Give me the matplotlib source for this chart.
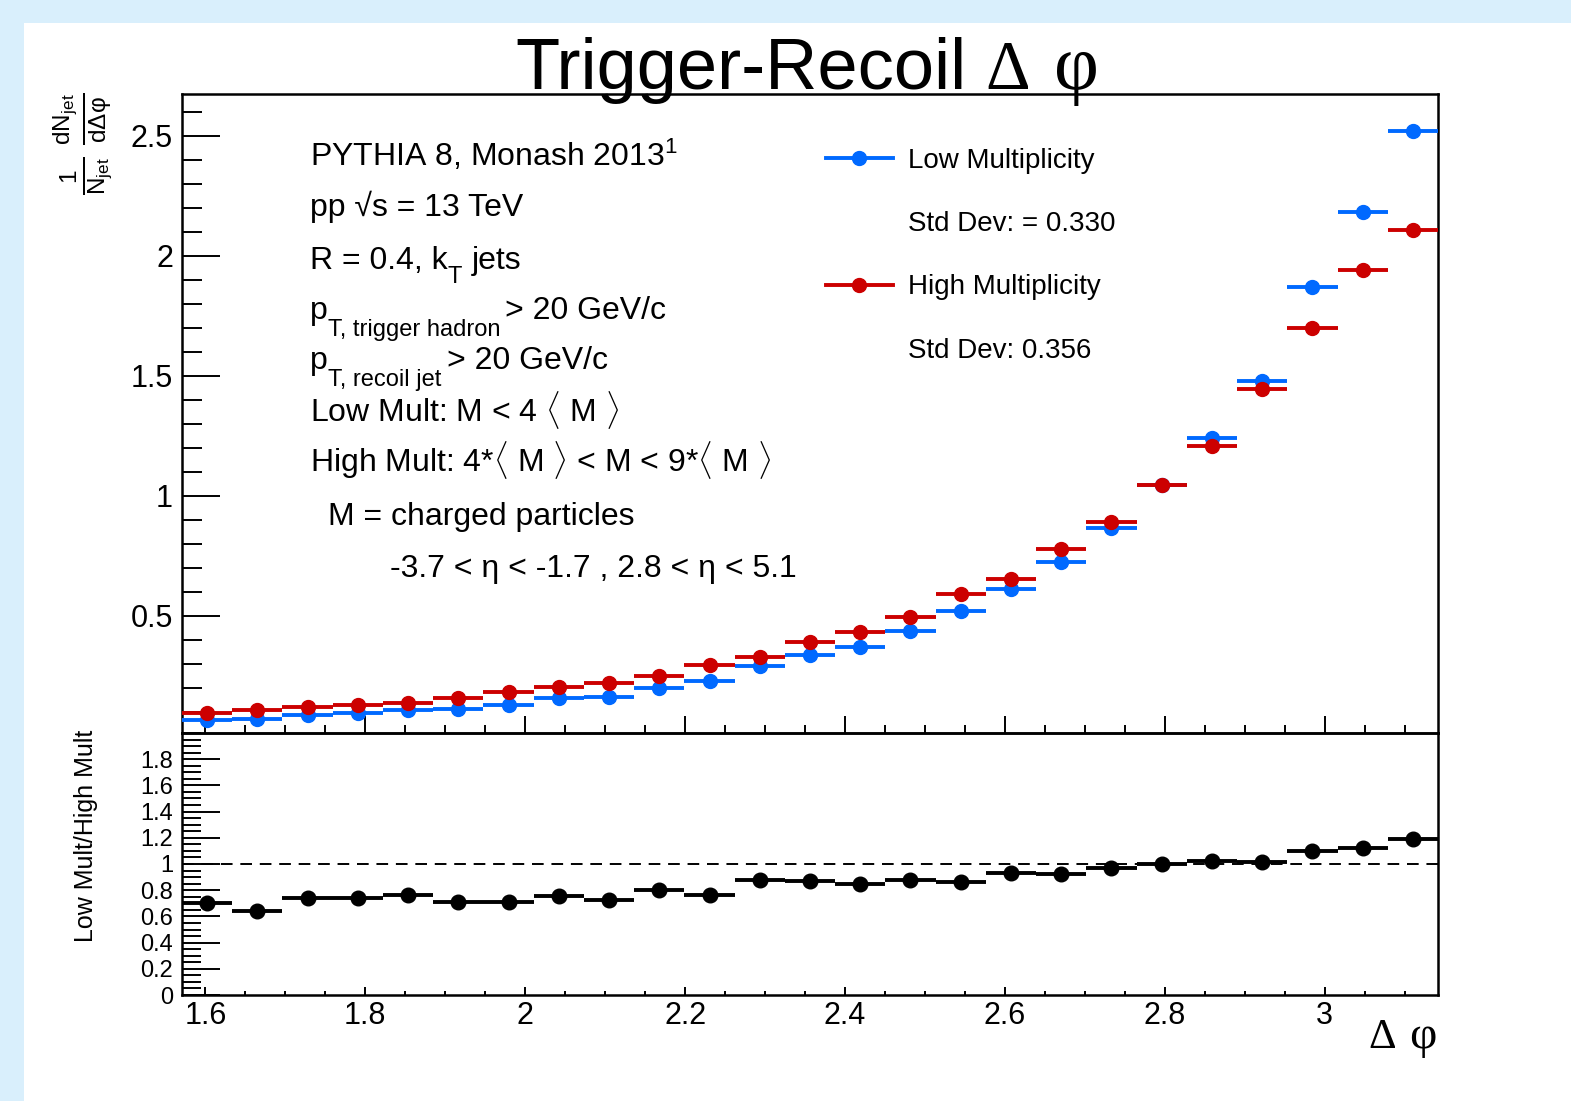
import numpy as np
import matplotlib
matplotlib.use('Agg')
import matplotlib.pyplot as plt
from matplotlib.lines import Line2D
from matplotlib.patches import Rectangle
from matplotlib.ticker import MultipleLocator, FixedLocator, FixedFormatter

# ---------------- data ----------------
n_bins = 25
phi_lo, phi_hi = np.pi / 2, np.pi
low_mult = [0.067, 0.071, 0.088, 0.095, 0.105, 0.111, 0.129, 0.155, 0.160, 0.199,
            0.226, 0.289, 0.338, 0.370, 0.435, 0.518, 0.613, 0.725, 0.864, 1.045,
            1.240, 1.479, 1.870, 2.182, 2.522]
high_mult = [0.095, 0.108, 0.120, 0.126, 0.136, 0.155, 0.180, 0.203, 0.221, 0.247,
             0.296, 0.328, 0.389, 0.430, 0.495, 0.592, 0.655, 0.779, 0.889, 1.045,
             1.207, 1.447, 1.699, 1.943, 2.110]
ratio = [0.699, 0.643, 0.737, 0.737, 0.764, 0.711, 0.711, 0.757, 0.724, 0.800,
         0.760, 0.881, 0.868, 0.851, 0.876, 0.866, 0.935, 0.927, 0.970, 1.000,
         1.023, 1.019, 1.100, 1.120, 1.194]
upper_yticks = [0.5, 1.0, 1.5, 2.0, 2.5]
upper_ylabels = ["0.5", "1", "1.5", "2", "2.5"]
lower_yticks = [0, 0.2, 0.4, 0.6, 0.8, 1.0, 1.2, 1.4, 1.6, 1.8]
lower_ylabels = ["0", "0.2", "0.4", "0.6", "0.8", "1", "1.2", "1.4", "1.6", "1.8"]
xticks = [1.6, 1.8, 2.0, 2.2, 2.4, 2.6, 2.8, 3.0]
xlabels = ["1.6", "1.8", "2", "2.2", "2.4", "2.6", "2.8", "3"]
legend_labels = ["Low Multiplicity", "Std Dev: = 0.330", "High Multiplicity", "Std Dev: 0.356"]

# ---------------- style ----------------
plt.rcParams['font.family'] = ['Liberation Sans', 'DejaVu Sans']
plt.rcParams['mathtext.fontset'] = 'custom'
plt.rcParams['mathtext.rm'] = 'Liberation Sans'
plt.rcParams['mathtext.it'] = 'Liberation Sans'
plt.rcParams['mathtext.bf'] = 'Liberation Sans:bold'

BLUE = '#0069ff'
RED = '#cc0000'
W, H = 1571, 1101
SERIF = ['Liberation Serif', 'DejaVu Serif']

def fx(px):
    return px / W

def fy(py):
    return 1 - py / H

fig = plt.figure(figsize=(W / 100, H / 100), dpi=100, facecolor='#d9effc')
fig.patches.append(Rectangle((fx(24), 0), 1 - fx(24), fy(23), transform=fig.transFigure,
                             facecolor='white', edgecolor='none', zorder=-10))

edges = np.linspace(phi_lo, phi_hi, n_bins + 1)
centers = 0.5 * (edges[:-1] + edges[1:])
halfw = 0.5 * (edges[1:] - edges[:-1])

ax1 = fig.add_axes([fx(182), fy(733), fx(1438) - fx(182), fy(94) - fy(733)])
ax2 = fig.add_axes([fx(182), fy(995), fx(1438) - fx(182), fy(733) - fy(995)])

for ax in (ax1, ax2):
    ax.set_facecolor('none')
    for s in ax.spines.values():
        s.set_linewidth(1.8)
        s.set_color('black')
    ax.set_xlim(phi_lo, phi_hi)
    ax.xaxis.set_major_locator(FixedLocator(xticks))
    ax.xaxis.set_minor_locator(MultipleLocator(0.05))
    ax.tick_params(which='both', direction='in', top=False, right=False, width=1.4,
                   colors='black')

# upper panel
ax1.errorbar(centers, low_mult, xerr=halfw, fmt='o', color=BLUE, ms=10, elinewidth=2.8,
             capsize=0, zorder=3)
ax1.errorbar(centers, high_mult, xerr=halfw, fmt='o', color=RED, ms=10, elinewidth=2.8,
             capsize=0, zorder=4)
ax1.set_ylim(0.011, 2.675)
ax1.yaxis.set_major_locator(FixedLocator(upper_yticks))
ax1.yaxis.set_major_formatter(FixedFormatter(upper_ylabels))
ax1.yaxis.set_minor_locator(MultipleLocator(0.1))
ax1.tick_params(axis='y', which='major', length=27.4, labelsize=22, pad=6.5)
ax1.tick_params(axis='y', which='minor', length=14.4)
ax1.tick_params(axis='x', which='major', length=12, labelbottom=False)
ax1.tick_params(axis='x', which='minor', length=6)

# lower panel
ax2.errorbar(centers, ratio, xerr=halfw, fmt='o', color='black', ms=10.5, elinewidth=2.8,
             capsize=0, zorder=4)
ax2.axhline(1.0, color='black', lw=1.4, dashes=(6, 4), zorder=2)
ax2.set_ylim(0, 2.0)
ax2.yaxis.set_major_locator(FixedLocator(lower_yticks))
ax2.yaxis.set_major_formatter(FixedFormatter(lower_ylabels))
ax2.yaxis.set_minor_locator(MultipleLocator(0.05))
ax2.xaxis.set_major_formatter(FixedFormatter(xlabels))
ax2.tick_params(axis='y', which='major', length=27.4, labelsize=17, pad=6.5)
ax2.tick_params(axis='y', which='minor', length=13.7)
ax2.tick_params(axis='x', which='major', length=5.5, labelsize=22, pad=4)
ax2.tick_params(axis='x', which='minor', length=2.7)

# title
fig.text(fx(967), fy(89), 'Trigger-Recoil', ha='right', va='baseline', fontsize=52)
fig.text(fx(985), fy(89), '\u0394', ha='left', va='baseline', fontsize=50, family=SERIF)
fig.text(fx(1054), fy(89), '\u03c6', ha='left', va='baseline', fontsize=56, family=SERIF)

# axis titles
fig.text(fx(82), fy(93), r'$\frac{1}{\mathrm{N_{jet}}}\ \frac{\mathrm{dN_{jet}}}{\mathrm{d}\Delta\varphi}$',
         rotation=90, ha='center', va='top', fontsize=25)
fig.text(fx(86), fy(730), 'Low Mult/High Mult', rotation=90, ha='center', va='top', fontsize=18)
fig.text(fx(1368), fy(1048), '\u0394', ha='left', va='baseline', fontsize=31, family=SERIF)
fig.text(fx(1409), fy(1048), '\u03c6', ha='left', va='baseline', fontsize=34, family=SERIF)

# info text
MAIN = 23
SUB = 17
fig.text(fx(310), fy(166), 'PYTHIA 8, Monash 2013$^{1}$', ha='left', va='baseline', fontsize=MAIN)
fig.text(fx(310), fy(216), 'pp \u221as = 13 TeV', ha='left', va='baseline', fontsize=MAIN)
fig.text(fx(310), fy(269), 'R = 0.4, k', ha='left', va='baseline', fontsize=MAIN)
fig.text(fx(448), fy(283), 'T', ha='left', va='baseline', fontsize=SUB)
fig.text(fx(472), fy(269), 'jets', ha='left', va='baseline', fontsize=MAIN)
fig.text(fx(310), fy(319), 'p', ha='left', va='baseline', fontsize=MAIN)
fig.text(fx(328), fy(336), 'T, trigger hadron', ha='left', va='baseline', fontsize=SUB)
fig.text(fx(505), fy(319), '> 20 GeV/c', ha='left', va='baseline', fontsize=MAIN)
fig.text(fx(310), fy(369), 'p', ha='left', va='baseline', fontsize=MAIN)
fig.text(fx(328), fy(386), 'T, recoil jet', ha='left', va='baseline', fontsize=SUB)
fig.text(fx(447), fy(369), '> 20 GeV/c', ha='left', va='baseline', fontsize=MAIN)
fig.text(fx(310), fy(422), r'Low Mult: M < 4 $\langle$ M $\rangle$', ha='left', va='baseline', fontsize=MAIN)
fig.text(fx(310), fy(472), r'High Mult: 4*$\langle$ M $\rangle$ < M < 9*$\langle$ M $\rangle$',
         ha='left', va='baseline', fontsize=MAIN)
fig.text(fx(328), fy(525), 'M = charged particles', ha='left', va='baseline', fontsize=MAIN)
fig.text(fx(390), fy(577), '-3.7 < \u03b7 < -1.7 , 2.8 < \u03b7 < 5.1', ha='left', va='baseline',
         fontsize=MAIN)

# legend
handles = [Line2D([], [], color=BLUE, marker='o', ms=10, lw=2.8),
           Line2D([], [], color='none'),
           Line2D([], [], color=RED, marker='o', ms=10, lw=2.8),
           Line2D([], [], color='none')]
ax1.legend(handles, legend_labels, loc='upper left', bbox_to_anchor=(fx(826), fy(148)),
           bbox_transform=fig.transFigure, frameon=False, fontsize=20, handlelength=2.4,
           handletextpad=0.54, labelspacing=1.34, borderpad=0, borderaxespad=0)

fig.savefig('out.png', dpi=100, facecolor=fig.get_facecolor())
